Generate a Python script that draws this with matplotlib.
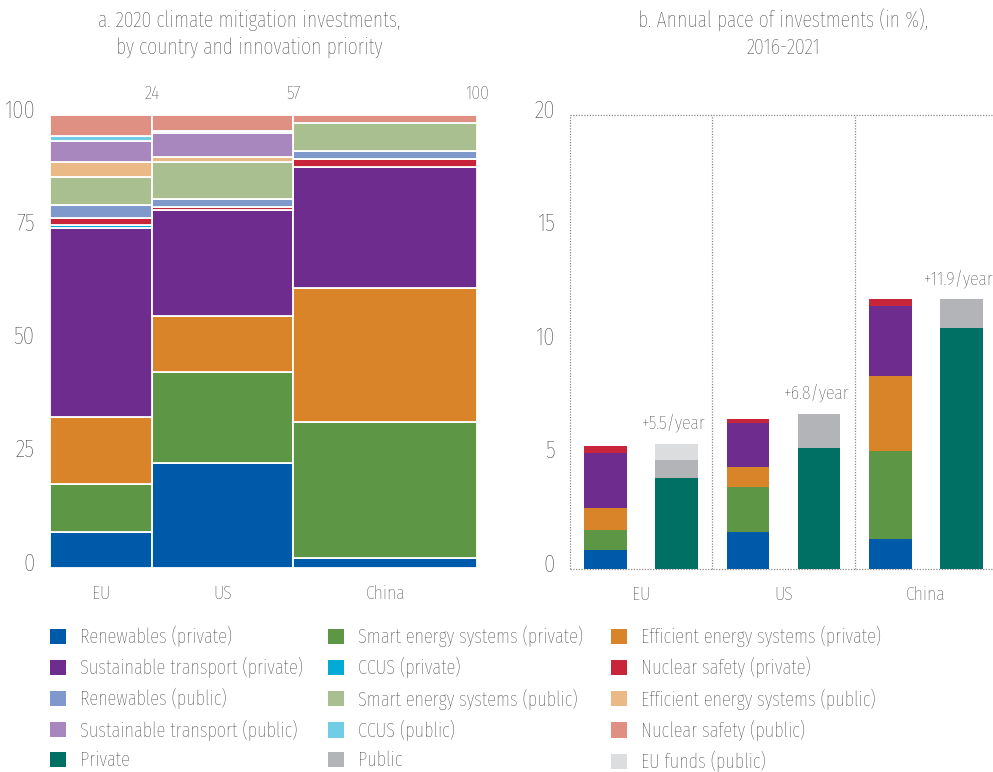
import matplotlib
matplotlib.use("Agg")
import matplotlib.pyplot as plt
from matplotlib import font_manager
from matplotlib.patches import Patch
from matplotlib.transforms import ScaledTranslation
import numpy as np

# ---------------- font selection ----------------
names = {f.name for f in font_manager.fontManager.ttflist}
FAM = []
for cand in ["Fira Sans Extra Condensed", "Fira Sans Condensed", "PT Sans Narrow", "Roboto Condensed"]:
    if cand in names:
        FAM.append(cand)
        break
FAM.append("DejaVu Sans")
plt.rcParams["font.family"] = FAM
plt.rcParams["font.weight"] = "light"
TXT = "#333333"

# ---------------- data: panel a ----------------
countries = ["EU", "US", "China"]
cum_share = [24, 57, 100]   # cumulative share of total investments

renew_priv = [7.9, 23.2, 2.3]
smart_priv = [10.6, 20.0, 30.0]
effic_priv = [14.8, 12.4, 29.5]
trans_priv = [41.8, 23.4, 26.8]
ccus_priv = [0.6, 0.0, 0.0]
nucl_priv = [1.6, 0.6, 1.7]
renew_pub = [2.8, 1.8, 1.7]
smart_pub = [6.2, 8.2, 6.3]
effic_pub = [3.3, 1.2, 0.0]
trans_pub = [4.7, 5.2, 0.0]
ccus_pub = [1.1, 0.5, 0.0]
nucl_pub = [4.6, 3.5, 1.7]

# ---------------- data: panel b ----------------
pace_renew = [0.84, 1.63, 1.32]
pace_smart = [0.88, 1.98, 3.88]
pace_effic = [0.97, 0.88, 3.30]
pace_trans = [2.42, 1.94, 3.10]
pace_nucl = [0.31, 0.18, 0.29]
pace_private = [4.00, 5.33, 10.62]
pace_public = [0.80, 1.50, 1.27]
pace_eufunds = [0.72, 0.0, 0.0]
pace_label = [5.5, 6.8, 11.9]

legend_labels = [
    "Renewables (private)", "Smart energy systems (private)", "Efficient energy systems (private)",
    "Sustainable transport (private)", "CCUS (private)", "Nuclear safety (private)",
    "Renewables (public)", "Smart energy systems (public)", "Efficient energy systems (public)",
    "Sustainable transport (public)", "CCUS (public)", "Nuclear safety (public)",
    "Private", "Public", "EU funds (public)",
]
colors = [
    "#005aaa", "#5d9645", "#d98428",
    "#6d2c8e", "#00aad5", "#c8243a",
    "#8099cc", "#a9bf8f", "#eab986",
    "#a886be", "#6fcde6", "#e09083",
    "#007064", "#b3b4b8", "#dcdddf",
]
C = dict(zip(legend_labels, colors))

fig = plt.figure(figsize=(9.93, 7.72), dpi=100)

# ---------------- panel a ----------------
axa = fig.add_axes([50 / 993, 1 - 568 / 772, 427 / 993, 453 / 772])
segments = [
    ("Renewables (private)", renew_priv),
    ("Smart energy systems (private)", smart_priv),
    ("Efficient energy systems (private)", effic_priv),
    ("Sustainable transport (private)", trans_priv),
    ("CCUS (private)", ccus_priv),
    ("Nuclear safety (private)", nucl_priv),
    ("Renewables (public)", renew_pub),
    ("Smart energy systems (public)", smart_pub),
    ("Efficient energy systems (public)", effic_pub),
    ("Sustainable transport (public)", trans_pub),
    ("CCUS (public)", ccus_pub),
    ("Nuclear safety (public)", nucl_pub),
]
edges = np.array(cum_share, dtype=float)
lefts = np.concatenate([[0], edges[:-1]])
widths = edges - lefts
bottom = np.zeros(3)
for name, vals in segments:
    v = np.array(vals, dtype=float)
    axa.bar(lefts, v, width=widths, bottom=bottom, align="edge",
            color=C[name], edgecolor="white", linewidth=1.3)
    bottom += v
axa.set_xlim(0, 100)
axa.set_ylim(0, 100)
for s in axa.spines.values():
    s.set_visible(False)
axa.set_xticks(lefts + widths / 2)
axa.set_xticklabels(countries, fontsize=14, color=TXT)
axa.tick_params(axis="x", length=0, pad=12)
axa.set_yticks([0, 25, 50, 75, 100])
axa.set_yticklabels(["0", "25", "50", "75", "100"], fontsize=18, color=TXT)
axa.tick_params(axis="y", length=0, pad=11)
off = ScaledTranslation(0, 0.065, fig.dpi_scale_trans)
for lab in axa.get_yticklabels():
    lab.set_transform(lab.get_transform() + off)
for e in cum_share:
    axa.annotate(str(e), xy=(e, 100), xytext=(0, 15), textcoords="offset points",
                 ha="center", va="center", fontsize=14, color=TXT,
                 annotation_clip=False)

# ---------------- panel b ----------------
axb = fig.add_axes([570 / 993, 1 - 569 / 772, 427 / 993, 454 / 772])
x = np.arange(3)
bw = 0.30
xl = x - 0.25
xr = x + 0.25
stack1 = [
    ("Renewables (private)", pace_renew),
    ("Smart energy systems (private)", pace_smart),
    ("Efficient energy systems (private)", pace_effic),
    ("Sustainable transport (private)", pace_trans),
    ("Nuclear safety (private)", pace_nucl),
]
b = np.zeros(3)
for name, vals in stack1:
    v = np.array(vals)
    axb.bar(xl, v, width=bw, bottom=b, color=C[name], linewidth=0)
    b += v
stack2 = [
    ("Private", pace_private),
    ("Public", pace_public),
    ("EU funds (public)", pace_eufunds),
]
b = np.zeros(3)
for name, vals in stack2:
    v = np.array(vals)
    axb.bar(xr, v, width=bw, bottom=b, color=C[name], linewidth=0)
    b += v
for i in range(3):
    axb.annotate(f"+{pace_label[i]}/year", xy=(xr[i], b[i]), xytext=(-2, 15),
                 textcoords="offset points", ha="center", va="center",
                 fontsize=14, color=TXT, annotation_clip=False)

axb.set_xlim(-0.5, 2.5)
axb.set_ylim(0, 20)
for s in axb.spines.values():
    s.set_visible(False)
dot = dict(color="#8a8a8a", linewidth=0.9, linestyle=(0, (1, 1.2)), clip_on=False)
axb.axhline(0, **dot)
axb.axhline(20, **dot)
for xv in [-0.5, 0.5, 1.5]:
    axb.axvline(xv, **dot)
axb.set_xticks(x)
axb.set_xticklabels(countries, fontsize=14, color=TXT)
axb.tick_params(axis="x", length=0, pad=12)
axb.set_yticks([0, 5, 10, 15, 20])
axb.set_yticklabels(["0", "5", "10", "15", "20"], fontsize=18, color=TXT)
axb.tick_params(axis="y", length=0, pad=11)
for lab in axb.get_yticklabels():
    lab.set_transform(lab.get_transform() + off)

# ---------------- titles ----------------
fig.text(249 / 993, 1 - 34 / 772,
         "a. 2020 climate mitigation investments,\nby country and innovation priority",
         ha="center", va="center", fontsize=15.5, color=TXT, linespacing=1.3)
fig.text(783 / 993, 1 - 34 / 772,
         "b. Annual pace of investments (in %),\n2016-2021",
         ha="center", va="center", fontsize=15.5, color=TXT, linespacing=1.3)

# ---------------- legend (3 columns, row-wise order) ----------------
col_x = [50 / 993, 328 / 993, 611 / 993]
for c in range(3):
    idx = list(range(c, 15, 3))
    handles = [Patch(facecolor=colors[i], edgecolor="none") for i in idx]
    labs = [legend_labels[i] for i in idx]
    fig.legend(handles, labs, loc="upper left", bbox_to_anchor=(col_x[c], 1 - 626 / 772),
               frameon=False, fontsize=14.5, borderpad=0, borderaxespad=0,
               handlelength=0.78, handleheight=0.78, handletextpad=0.7,
               labelspacing=0.5, labelcolor=TXT)

fig.savefig("out.png", dpi=100)
